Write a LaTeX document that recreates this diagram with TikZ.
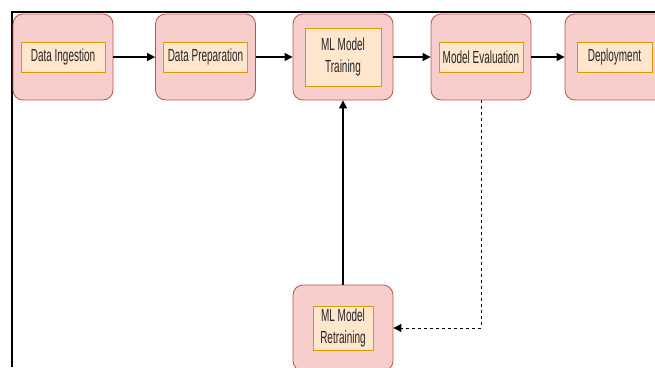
\documentclass[tikz,border=0pt]{standalone}
\usepackage{fontspec}
\setmainfont{Liberation Sans}[FakeStretch=0.57]
\usetikzlibrary{arrows.meta}

\definecolor{stagefill}{HTML}{F8CECC}
\definecolor{stagedraw}{HTML}{B85450}
\definecolor{labelfill}{HTML}{FFE6CC}
\definecolor{labeldraw}{HTML}{D79B00}

\begin{document}
\begin{tikzpicture}[x=1pt, y=-1pt,
  stage/.style={rectangle, rounded corners=10pt, draw=stagedraw, fill=stagefill,
                line width=0.8pt, minimum width=100pt, minimum height=86pt, inner sep=0pt},
  tag/.style={rectangle, draw=labeldraw, fill=labelfill, line width=1pt,
              minimum height=30pt, inner sep=0pt, align=center, text=black!85,
              font=\fontsize{17.5}{21.5}\selectfont},
  flow/.style={-{Triangle[length=8pt,width=8pt]}, line width=1.1pt},
  back/.style={flow, dashed, dash pattern=on 3pt off 3pt, line width=0.9pt}]
\useasboundingbox (0,0) rectangle (655,367);
\clip (0,0) rectangle (655,367);

  % frame
  \draw[line width=2pt] (12,367) -- (12,12) -- (660,12);

  % pipeline stages
  \node[stage] (ingest)  at (63,57)    {};
  \node[stage] (prepare) at (205.5,57) {};
  \node[stage] (train)   at (343,57)   {};
  \node[stage] (eval)    at (481,57)   {};
  \node[stage] (deploy)  at (615,57)   {};
  \node[stage] (retrain) at (343,328)  {};

  % labels
  \node[tag, minimum width=84pt] (ingestlbl)  at (ingest)  {Data Ingestion};
  \node[tag, minimum width=84pt] (preparelbl) at (prepare) {Data Preparation};
  \node[tag, minimum width=76pt, minimum height=58pt] (trainlbl) at (train) {ML Model\\Training};
  \node[tag, minimum width=84pt] (evallbl)    at (eval)    {Model Evaluation};
  \node[tag, minimum width=75pt] (deploylbl)  at (614.5,57) {Deployment};
  \node[tag, minimum width=60pt, minimum height=44pt] (retrainlbl) at (retrain) {ML Model\\Retraining};

  % connectors
  \draw[flow] (ingest) -- (prepare);
  \draw[flow] (prepare) -- (train);
  \draw[flow] (train) -- (eval);
  \draw[flow] (eval) -- (deploy);
  \draw[flow] (retrain) -- (train);
  \draw[back] (eval.south) |- (retrain.east);
\end{tikzpicture}
\end{document}
